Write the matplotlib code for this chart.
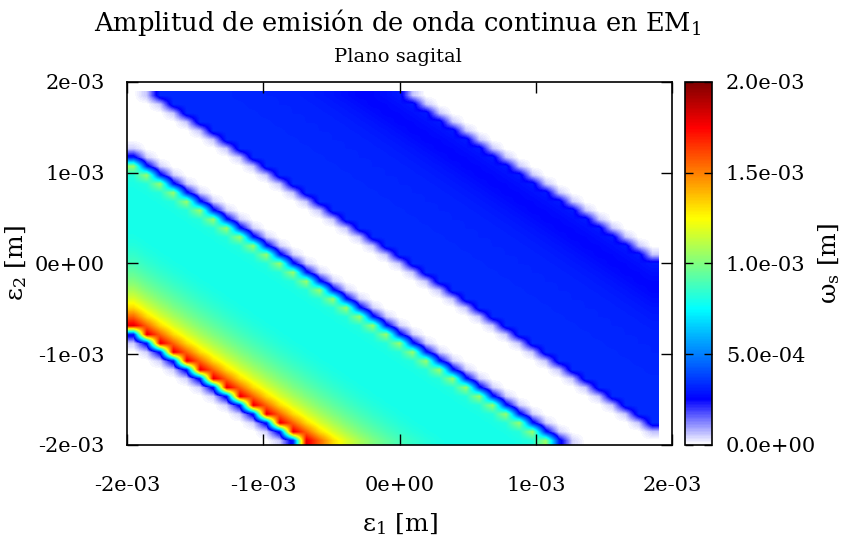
import numpy as np
import matplotlib
matplotlib.use('Agg')
import matplotlib.pyplot as plt
from matplotlib.colors import LinearSegmentedColormap

plt.rcParams['font.family'] = ['DejaVu Serif']
plt.rcParams['mathtext.fontset'] = 'dejavuserif'

# grid of the scan (in units of 1e-3 m)
eps1 = np.round(np.arange(-2.0, 1.95, 0.1), 1)
eps2 = np.round(np.arange(-2.0, 1.95, 0.1), 1)

# waist (1e-3 m) read along the diagonals eps1+eps2 = s
lower_s = [-2.9, -2.8, -2.7, -2.6, -2.5, -2.4, -2.3, -2.2, -2.1, -2.0, -1.9, -1.8, -1.7,
           -1.6, -1.5, -1.4, -1.3, -1.2, -1.1, -1.0, -0.9, -0.8, -0.7]
lower_w = [0.05, 0.30, 1.80, 1.55, 1.32, 1.18, 1.08, 1.00, 0.94, 0.89, 0.85, 0.82, 0.80,
           0.79, 0.79, 0.79, 0.79, 0.79, 0.80, 0.82, 1.05, 0.30, 0.05]
upper_s = [0.0, 0.1, 0.2, 0.3, 0.4, 0.5, 0.6, 0.7, 0.8, 0.9, 1.0, 1.1, 1.2, 1.3, 1.4,
           1.5, 1.6, 1.7, 1.8, 1.9, 2.0]
upper_w = [0.06, 0.33, 0.335, 0.335, 0.33, 0.33, 0.33, 0.325, 0.325, 0.32, 0.32, 0.315, 0.31,
           0.30, 0.29, 0.275, 0.26, 0.265, 0.28, 0.30, 0.06]

s_all = np.round(np.arange(-4.0, 3.85, 0.1), 1)
profile = np.zeros(len(s_all))
for s, w in zip(lower_s + upper_s, lower_w + upper_w):
    profile[np.argmin(abs(s_all - s))] = w

ii, jj = np.meshgrid(np.arange(len(eps1)), np.arange(len(eps2)))
Z = profile[ii + jj] * 1e-3

cmap = LinearSegmentedColormap.from_list('wjet', [
    (0.0, (1, 1, 1)), (0.125, (0, 0, 1)), (0.375, (0, 1, 1)),
    (0.625, (1, 1, 0)), (0.875, (1, 0, 0)), (1.0, (0.5, 0, 0))])

fig = plt.figure(figsize=(8.43, 5.39), dpi=100)
ax = fig.add_axes([0.1507, 0.1744, 0.6465, 0.6735])
cax = fig.add_axes([0.8126, 0.1744, 0.032, 0.6735])

im = ax.imshow(Z, origin='lower', cmap=cmap, vmin=0, vmax=2e-3,
               extent=[-2.0e-3, 1.9e-3, -2.0e-3, 1.9e-3],
               interpolation='bilinear', aspect='auto')
ax.set_xlim(-2e-3, 2e-3)
ax.set_ylim(-2e-3, 2e-3)

ticks = [-2e-3, -1e-3, 0, 1e-3, 2e-3]
ax.set_xticks(ticks)
ax.set_yticks(ticks)
ax.set_xticklabels(['%.0e' % t for t in ticks])
ax.set_yticklabels(['%.0e' % t for t in ticks])
ax.tick_params(direction='in', length=8, width=1, top=True, right=True,
               labelsize=15)
ax.tick_params(axis='x', pad=22)
ax.tick_params(axis='y', pad=16)
for sp in ax.spines.values():
    sp.set_linewidth(1.2)

ax.set_xlabel('ε$_1$ [m]', fontsize=18, labelpad=12)
ax.set_ylabel('ε$_2$ [m]', fontsize=18, labelpad=4)

cb = fig.colorbar(im, cax=cax)
cb.set_ticks([0, 5e-4, 1e-3, 1.5e-3, 2e-3])
cb.set_ticklabels(['%.1e' % t for t in [0, 5e-4, 1e-3, 1.5e-3, 2e-3]])
cax.tick_params(direction='in', length=6, width=1, left=True, right=True,
                labelsize=15, pad=10)
cb.outline.set_linewidth(1.2)
fig.text(0.984, 0.511, 'ω$_\\mathrm{s}$ [m]', rotation=90, ha='center', va='center',
         fontsize=18)

fig.text(0.472, 0.958, 'Amplitud de emisión de onda continua en EM$_1$',
         ha='center', va='center', fontsize=18.5)
fig.text(0.472, 0.894, 'Plano sagital', ha='center', va='center', fontsize=14)

fig.savefig('out.png', dpi=100)
